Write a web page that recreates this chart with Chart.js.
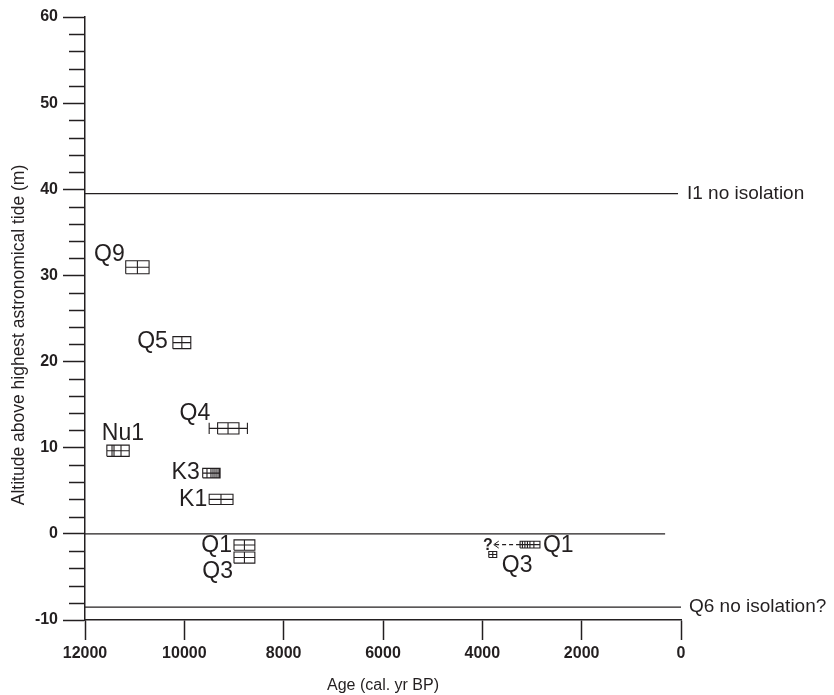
<!DOCTYPE html>
<html>
<head>
<meta charset="utf-8">
<script src="https://cdn.jsdelivr.net/npm/chart.js@4.4.1/dist/chart.umd.min.js"></script>
<style>
  html, body { margin: 0; padding: 0; background: #fff; }
  #wrap { position: relative; width: 834px; height: 695px; }
</style>
</head>
<body>
<div id="wrap"><canvas id="chart"></canvas></div>
<script>
const INK = '#231f20';
const FONT = "'Liberation Sans', Arial, Helvetica, sans-serif";

// --- data (ages in cal. yr BP, altitudes in m above HAT) ---------------------

const SAMPLES = ['Q9', 'Q5', 'Q4', 'Nu1', 'K3', 'K1', 'Q1', 'Q3', 'Q1', 'Q3'];
const AGE_OLD = [11180, 10230, 9330, 11560, 9630, 9500, 9000, 9000, 3240, 3870];
const AGE_YOUNG = [10710, 9870, 8900, 11110, 9280, 9020, 8580, 8580, 2840, 3710];
const ALT_HIGH = [31.7, 22.9, 12.9, 10.3, 7.6, 4.6, -0.7, -2.1, -0.85, -2.05];
const ALT_LOW = [30.2, 21.5, 11.6, 9.0, 6.5, 3.4, -1.9, -3.4, -1.65, -2.75];
// vertical lines inside each box (calibrated ages)
const AGE_MARKS = [
  [10945], [10050], [9120], [11456, 11416, 11275], [9544, 9464, 9423, 9383, 9343, 9303],
  [9262], [8790], [8790], [3193, 3143, 3092, 3042, 2962], [3790],
];
// only Q4 has a wider calibrated range drawn as a whisker
const WHISKER_OLD = [null, null, 9500, null, null, null, null, null, null, null];
const WHISKER_YOUNG = [null, null, 8730, null, null, null, null, null, null, null];

// the young Q1 might be older: dashed arrow towards this age
const ARROW_FROM = 8;
const ARROW_TO_AGE = 3770;

const REF_LABELS = ['I1 no isolation', '', 'Q6 no isolation?'];
const REF_ALT = [39.5, 0, -8.5];
const REF_AGE_END = [60, 320, 0];

const X_TICKS = [12000, 10000, 8000, 6000, 4000, 2000, 0];
const Y_TICKS = [60, 50, 40, 30, 20, 10, 0, -10];

// --- label layout (px, relative to the box) ----------------------------------
// side: text sits left of the box (right aligned) or right of it
const LABEL_LAYOUT = [
  { side: 'left', dx: -1, dy: -13 },
  { side: 'left', dx: -5, dy: -1 },
  { side: 'left', dx: 1, dy: -15 },
  { side: 'above', dx: -5, dy: -17 },
  { side: 'left', dx: -3, dy: 0 },
  { side: 'left', dx: -2, dy: 0 },
  { side: 'left', dx: -2, dy: 1 },
  { side: 'left', dx: -1, dy: 14 },
  { side: 'right', dx: 3, dy: 1 },
  { side: 'right', dx: 5, dy: 11 },
];

// --- datasets -----------------------------------------------------------------

function boxPoints(i) {
  const a0 = AGE_OLD[i], a1 = AGE_YOUNG[i];
  const hi = ALT_HIGH[i], lo = ALT_LOW[i], mid = (hi + lo) / 2;
  const pts = [];
  const gap = (x) => pts.push({ x, y: null });
  pts.push({ x: a0, y: lo }, { x: a0, y: hi }, { x: a1, y: hi }, { x: a1, y: lo }, { x: a0, y: lo });
  const w0 = WHISKER_OLD[i] ?? a0;
  const w1 = WHISKER_YOUNG[i] ?? a1;
  gap(a1);
  pts.push({ x: w0, y: mid }, { x: w1, y: mid });
  if (WHISKER_OLD[i] != null) {
    gap(w1);
    pts.push({ x: w0, y: lo }, { x: w0, y: hi });
    gap(w0);
    pts.push({ x: w1, y: lo }, { x: w1, y: hi });
  }
  AGE_MARKS[i].forEach((a) => {
    gap(a);
    pts.push({ x: a, y: lo }, { x: a, y: hi });
  });
  return pts;
}

const lineStyle = {
  borderColor: INK, borderWidth: 1.1, pointRadius: 0, showLine: true,
  spanGaps: false, tension: 0, fill: false, clip: false,
};

const datasets = [];
SAMPLES.forEach((name, i) => {
  datasets.push({ ...lineStyle, label: name, data: boxPoints(i) });
});
REF_ALT.forEach((alt, i) => {
  datasets.push({
    ...lineStyle, label: REF_LABELS[i] || 'zero',
    data: [{ x: 12000, y: alt }, { x: REF_AGE_END[i], y: alt }],
  });
});
const arrowAlt = (ALT_HIGH[ARROW_FROM] + ALT_LOW[ARROW_FROM]) / 2;
datasets.push({
  ...lineStyle, label: 'arrow', borderDash: [4, 3],
  data: [{ x: AGE_OLD[ARROW_FROM], y: arrowAlt }, { x: ARROW_TO_AGE, y: arrowAlt }],
});

// --- annotations: labels, minor ticks, arrow head, y title -------------------

const annotations = {
  id: 'annotations',
  afterDraw(chart) {
    const { ctx, scales: { x, y } } = chart;
    ctx.save();
    ctx.strokeStyle = INK;
    ctx.fillStyle = INK;

    // minor y ticks every 2 m
    ctx.lineWidth = 1.5;
    for (let v = -10; v <= 60; v += 2) {
      if (v % 10 === 0) continue;
      const py = Math.round(y.getPixelForValue(v)) + 0.5;
      ctx.beginPath();
      ctx.moveTo(x.left - 16, py);
      ctx.lineTo(x.left, py);
      ctx.stroke();
    }

    // sample labels
    ctx.font = `23px ${FONT}`;
    ctx.textBaseline = 'middle';
    SAMPLES.forEach((name, i) => {
      const lay = LABEL_LAYOUT[i];
      const left = x.getPixelForValue(WHISKER_OLD[i] ?? AGE_OLD[i]);
      const right = x.getPixelForValue(AGE_YOUNG[i]);
      const cy = y.getPixelForValue((ALT_HIGH[i] + ALT_LOW[i]) / 2);
      if (lay.side === 'left') {
        ctx.textAlign = 'right';
        ctx.fillText(name, left + lay.dx, cy + lay.dy);
      } else if (lay.side === 'above') {
        ctx.textAlign = 'left';
        ctx.fillText(name, left + lay.dx, cy + lay.dy);
      } else {
        ctx.textAlign = 'left';
        ctx.fillText(name, right + lay.dx, cy + lay.dy);
      }
    });

    // arrow head and question mark
    const tipX = x.getPixelForValue(ARROW_TO_AGE);
    const tipY = y.getPixelForValue(arrowAlt);
    ctx.lineWidth = 1;
    ctx.beginPath();
    ctx.moveTo(tipX + 5, tipY - 3.5);
    ctx.lineTo(tipX, tipY);
    ctx.lineTo(tipX + 5, tipY + 3.5);
    ctx.stroke();
    ctx.font = `bold 16px ${FONT}`;
    ctx.textAlign = 'right';
    ctx.fillText('?', tipX - 1, tipY + 1);

    // reference line labels
    ctx.font = `19px ${FONT}`;
    ctx.textAlign = 'left';
    REF_LABELS.forEach((txt, i) => {
      if (!txt) return;
      ctx.fillText(txt, x.right + 6 + (i === 2 ? 2 : 0), y.getPixelForValue(REF_ALT[i]));
    });

    // y axis title
    ctx.font = `17.5px ${FONT}`;
    ctx.textAlign = 'center';
    ctx.translate(19, 335);
    ctx.rotate(-Math.PI / 2);
    ctx.fillText('Altitude above highest astronomical tide (m)', 0, 0);
    ctx.restore();
  },
};

new Chart(document.getElementById('chart'), {
  type: 'scatter',
  data: { datasets },
  options: {
    responsive: true,
    maintainAspectRatio: false,
    animation: false,
    layout: { padding: { top: 17, right: 153, bottom: 0, left: 0 } },
    plugins: { legend: { display: false }, tooltip: { enabled: false } },
    scales: {
      x: {
        type: 'linear',
        min: 0,
        max: 12000,
        reverse: true,
        afterBuildTicks: (s) => { s.ticks = X_TICKS.map((v) => ({ value: v })); },
        afterFit: (s) => { s.height = 75; },
        ticks: {
          color: INK, padding: 4, maxRotation: 0, autoSkip: false,
          font: { family: FONT, size: 16, weight: 'bold' },
          callback: (v) => String(v),
        },
        grid: { drawOnChartArea: false, tickLength: 20, tickColor: INK, tickWidth: 1.5 },
        border: { color: INK, width: 1.5 },
        title: {
          display: true, text: 'Age (cal. yr BP)', color: INK, padding: 0,
          font: { family: FONT, size: 16 },
        },
      },
      y: {
        type: 'linear',
        min: -10,
        max: 60,
        afterBuildTicks: (s) => { s.ticks = Y_TICKS.map((v) => ({ value: v })); },
        afterFit: (s) => { s.width = 85; },
        ticks: {
          color: INK, padding: 5, autoSkip: false,
          font: { family: FONT, size: 16, weight: 'bold' },
          callback: (v) => String(v),
        },
        grid: { drawOnChartArea: false, tickLength: 22, tickColor: INK, tickWidth: 1.5 },
        border: { color: INK, width: 1.5 },
      },
    },
  },
  plugins: [annotations],
});
</script>
</body>
</html>
